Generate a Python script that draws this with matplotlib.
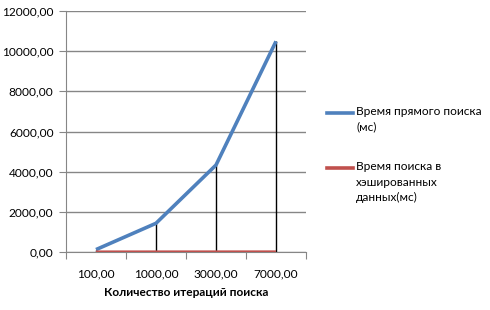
import matplotlib
matplotlib.use("Agg")
import matplotlib.pyplot as plt
from matplotlib.lines import Line2D

iterations = [100, 1000, 3000, 7000]
direct_ms = [120, 1430, 4330, 10490]
hashed_ms = [2, 3, 4, 5]
x_labels = ["100,00", "1000,00", "3000,00", "7000,00"]
y_ticks = [0, 2000, 4000, 6000, 8000, 10000, 12000]
series_names = ["Время прямого поиска\n(мс)", "Время поиска в\nхэшированных\nданных(мс)"]
x_title = "Количество итераций поиска"

plt.rcParams['font.family'] = ['Lato', 'DejaVu Sans']
FS = 8.6
fig = plt.figure(figsize=(4.9, 3.1), dpi=100)
ax = fig.add_axes([66/490, 1-252/310, 240/490, 241/310])

blue = '#4F81BD'
red = '#C0504D'
grid_c = '#868686'
xs = list(range(len(iterations)))

ax.set_ylim(0, 12000)
ax.set_xlim(-0.5, len(iterations)-0.5)
ax.set_yticks(y_ticks)
ax.set_yticklabels([f"{v:.2f}".replace('.', ',') for v in y_ticks])
ax.yaxis.grid(True, color=grid_c, lw=1)
ax.set_axisbelow(True)
ax.set_xticks([i - 0.5 for i in range(len(iterations)+1)])
ax.set_xticklabels([])
ax.set_xticks(xs, minor=True)
ax.set_xticklabels(x_labels, minor=True)
ax.tick_params(axis='x', which='major', length=5, color=grid_c, direction='out')
ax.tick_params(axis='x', which='minor', length=0, pad=12, labelsize=FS)
ax.tick_params(axis='y', length=5, color=grid_c, labelsize=FS, pad=4)
for s in ['top', 'right']:
    ax.spines[s].set_visible(False)
for s in ['left', 'bottom']:
    ax.spines[s].set_color(grid_c)

ax.vlines(xs, 0, direct_ms, color='black', lw=1, zorder=2)
l1, = ax.plot(xs, direct_ms, color=blue, lw=2.6, zorder=3, solid_capstyle='butt')
l2, = ax.plot(xs, hashed_ms, color=red, lw=2.2, zorder=3, solid_capstyle='butt')
ax.set_xlabel(x_title, fontweight='bold', fontsize=FS, labelpad=5)

# legend
for line, name, yy in [(l1, series_names[0], 113), (l2, series_names[1], 168)]:
    fig.add_artist(Line2D([327/490, 353/490], [1-yy/310, 1-yy/310], color=line.get_color(), lw=2.6, transform=fig.transFigure))
    fig.text(356/490, 1-(yy-7)/310, name, fontsize=FS, va='top', ha='left', linespacing=1.5)

fig.savefig('out.png', dpi=100)
